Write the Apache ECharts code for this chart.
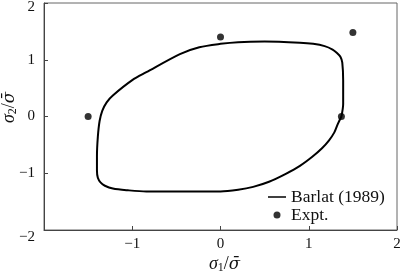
<!DOCTYPE html>
<html>
<head>
<meta charset="utf-8">
<script src="https://cdn.jsdelivr.net/npm/echarts@6/dist/echarts.min.js"></script>
<style>html,body{margin:0;padding:0;background:#fff;}#c{width:400px;height:272px;}</style>
</head>
<body>
<div id="c"></div>
<script>
// Barlat (1989) yield locus (sigma1/sigmabar, sigma2/sigmabar)
const barlatX = [1.37, 1.39, 1.39, 1.38, 1.36, 1.32, 1.27, 1.18, 1.05, 0.90, 0.50, 0.20, 0.00, -0.24, -0.46, -0.84, -1.00, -1.22, -1.29, -1.34, -1.37, -1.39, -1.40, -1.40, -1.39, -1.36, -1.31, -1.22, -1.05, -0.84, -0.40, 0.00, 0.20, 0.37, 0.55, 0.74, 0.90, 1.04, 1.15, 1.23, 1.29, 1.33, 1.37];
const barlatY = [0.00, 0.22, 0.63, 0.95, 1.05, 1.12, 1.18, 1.24, 1.28, 1.30, 1.32, 1.31, 1.28, 1.22, 1.10, 0.78, 0.64, 0.37, 0.25, 0.10, -0.08, -0.36, -0.70, -0.95, -1.08, -1.16, -1.22, -1.27, -1.30, -1.32, -1.32, -1.32, -1.29, -1.24, -1.15, -1.01, -0.87, -0.71, -0.56, -0.42, -0.28, -0.13, 0.00];
// Experimental points
const exptX = [-1.5, 0.0, 1.5, 1.37];
const exptY = [0.0, 1.4, 1.48, 0.0];
const xTicks = [-2, -1, 0, 1, 2];
const yTicks = [-2, -1, 0, 1, 2];

const FONT = '"Liberation Serif", "DejaVu Serif", serif';
const chart = echarts.init(document.getElementById('c'), null, {renderer: 'canvas'});
const axisColor = '#444';
const nameRich = {
  s: {fontFamily: FONT, fontSize: 18, fontStyle: 'italic', color: '#111'},
  b: {fontFamily: '"DejaVu Serif", serif', fontSize: 16.5, fontStyle: 'italic', color: '#111'},
  sub: {fontFamily: FONT, fontSize: 12, color: '#111', verticalAlign: 'bottom', padding: [7, 0, 0, 0]},
  t: {fontFamily: FONT, fontSize: 18, color: '#111'}
};
const fmt = v => (v < 0 ? '\u2212' + Math.abs(v) : String(v));
const yFmt = v => {
  const s = fmt(v);
  if (v === yTicks[0]) return '{lo|' + s + '}';
  if (v === yTicks[yTicks.length - 1]) return '{hi|' + s + '}';
  return '{n|' + s + '}';
};
const labRich = {
  n: {fontFamily: FONT, fontSize: 15, color: '#111'},
  lo: {fontFamily: FONT, fontSize: 15, color: '#111', padding: [14, 0, 0, 0]},
  hi: {fontFamily: FONT, fontSize: 15, color: '#111', padding: [8, 0, 0, 0]}
};
chart.setOption({
  animation: false,
  backgroundColor: '#fff',
  grid: {left: 44, right: 3, top: 3, bottom: 42, show: true, borderColor: '#666', borderWidth: 1,
    containLabel: false, outerBoundsMode: 'none'},
  legend: {
    orient: 'vertical', left: 263, top: 183, itemGap: 0, itemWidth: 18, itemHeight: 7,
    textStyle: {fontFamily: FONT, fontSize: 17.5, color: '#111'},
    data: [
      {name: 'Barlat (1989)', icon: 'path://M0,0 L18,0 L18,1.5 L0,1.5 Z'},
      {name: 'Expt.', icon: 'circle'}
    ]
  },
  xAxis: {
    type: 'value', min: xTicks[0], max: xTicks[xTicks.length - 1], interval: 1,
    name: '{s|σ}{sub|1}{t|/}{b|σ\u0304}', nameLocation: 'middle', nameGap: 25, nameMoveOverlap: false,
    nameTextStyle: {rich: nameRich, padding: [0, 0, 0, 8]},
    axisLine: {show: true, onZero: false, lineStyle: {color: axisColor, width: 1}},
    axisTick: {show: true, inside: true, length: 4, lineStyle: {color: axisColor}},
    axisLabel: {fontFamily: FONT, fontSize: 15, color: '#111', margin: 7, formatter: fmt,
      showMinLabel: false},
    splitLine: {show: false}
  },
  yAxis: {
    type: 'value', min: yTicks[0], max: yTicks[yTicks.length - 1], interval: 1,
    name: '{s|σ}{sub|2}{t|/}{b|σ\u0304}', nameLocation: 'middle', nameGap: 25, nameRotate: 90,
    nameMoveOverlap: false,
    nameTextStyle: {rich: nameRich, padding: [0, 0, 0, 18]},
    axisLine: {show: true, onZero: false, lineStyle: {color: axisColor, width: 1}},
    axisTick: {show: true, inside: true, length: 4, lineStyle: {color: axisColor}},
    axisLabel: {color: '#111', margin: 9, formatter: yFmt, rich: labRich},
    splitLine: {show: false}
  },
  series: [
    {
      name: 'Barlat (1989)', type: 'line', smooth: 0.3, showSymbol: false,
      data: barlatX.map((x, i) => [x, barlatY[i]]),
      lineStyle: {color: '#000', width: 2}, itemStyle: {color: '#000'}
    },
    {
      name: 'Expt.', type: 'scatter', symbol: 'circle', symbolSize: 7,
      data: exptX.map((x, i) => [x, exptY[i]]),
      itemStyle: {color: '#000'}
    }
  ]
});
</script>
</body>
</html>
